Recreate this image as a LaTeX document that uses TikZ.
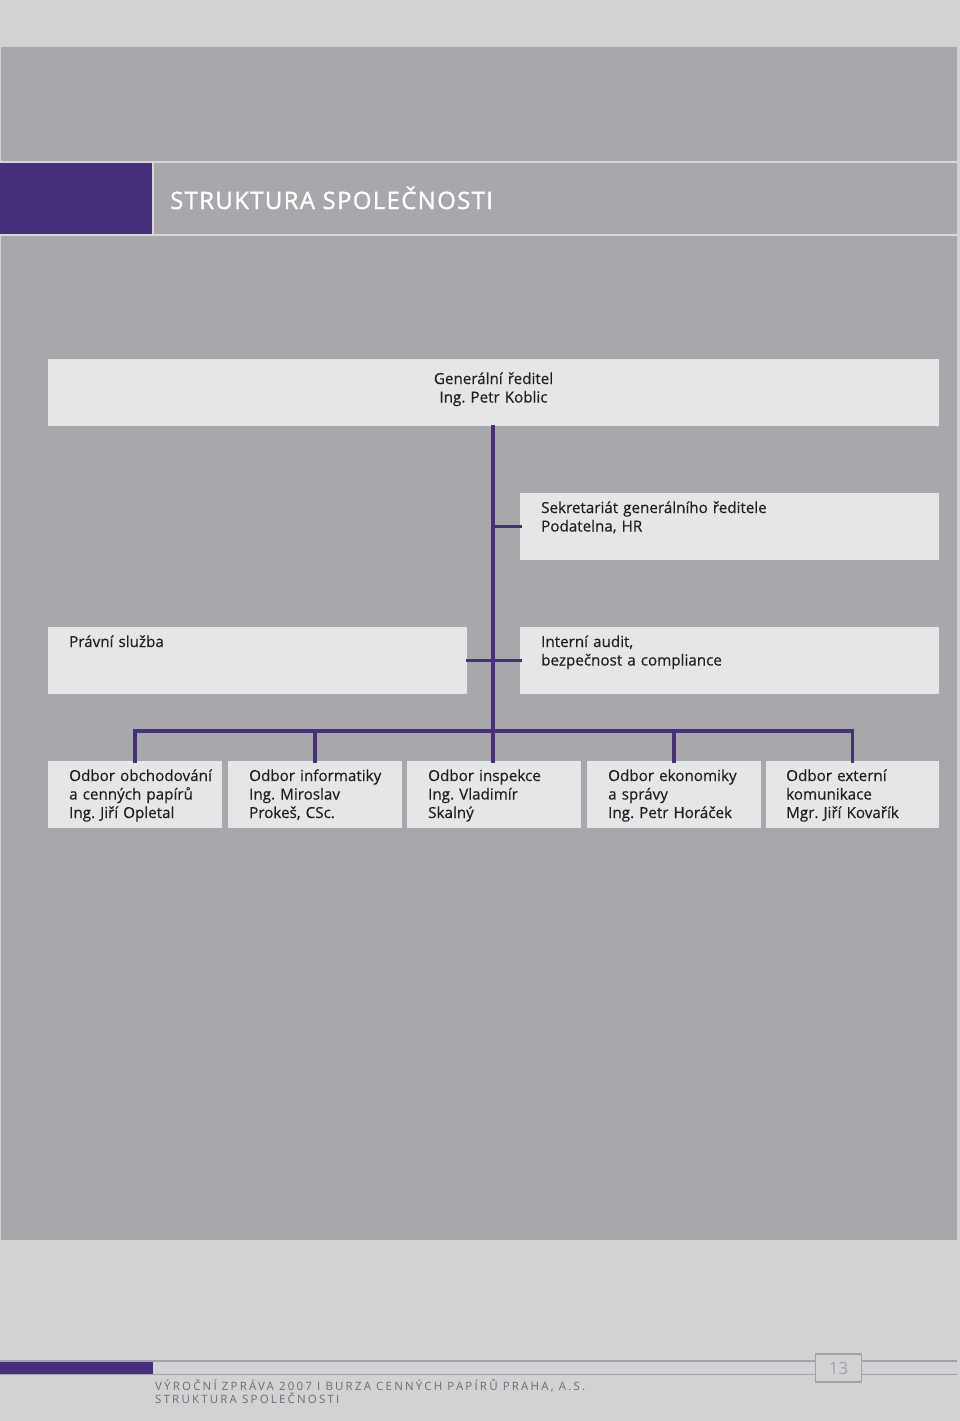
\documentclass[tikz,border=0pt]{standalone}
\usepackage{fontspec}
\setmainfont{Open Sans}
\newfontfamily\titlefont[LetterSpace=5.5,FakeBold=1.3]{Open Sans}
\newfontfamily\footfont[LetterSpace=19]{Open Sans}
\newfontfamily\bodyfont[FakeBold=0.4]{Open Sans}
\frenchspacing
\definecolor{bandlight}{HTML}{D1D2D4}
\definecolor{maingrey}{HTML}{A7A8AB}
\definecolor{boxfill}{HTML}{E5E6E8}
\definecolor{purp}{HTML}{46307B}
\definecolor{bandline}{HTML}{D6D7D9}
\definecolor{txtdark}{HTML}{231F20}
\definecolor{footgrey}{HTML}{6D6E71}
\definecolor{footline}{HTML}{A3A4A7}
\tikzset{
  box/.style={rectangle, fill=boxfill, draw=none, inner sep=0pt, anchor=north west},
  boxtext/.style={inner sep=0pt, anchor=base west, align=left, text width=300pt,
    text=txtdark, font=\bodyfont\fontsize{15.2}{18.5}\selectfont},
  conn/.style={draw=purp, line width=3.5pt, line cap=rect, line join=miter},
}
\begin{document}
\begin{tikzpicture}[x=1pt,y=-1pt]
\useasboundingbox (0,0) rectangle (960,1421);
% backgrounds
\fill[bandlight] (0,0) rectangle (960,1421);
\fill[maingrey] (1,47) rectangle (957,1240);
% title band
\draw[bandline, line width=2pt] (0,162) -- (957,162);
\draw[bandline, line width=2pt] (0,234.5) -- (957,234.5);
\fill[purp] (0,163) rectangle (152,233.5);
\draw[bandline, line width=1.5pt] (153,163) -- (153,233.5);
\node[anchor=base west, inner sep=0pt, text=white, font=\titlefont\fontsize{24}{24}\selectfont] (title) at (170,209) {STRUKTURA SPOLEČNOSTI};

% boxes
\node[box, minimum width=891pt, minimum height=67pt] (gen) at (48,359) {};
\node[box, minimum width=419pt, minimum height=67pt] (sek) at (520,493) {};
\node[box, minimum width=419pt, minimum height=67pt] (pr) at (48,627) {};
\node[box, minimum width=419pt, minimum height=67pt] (ia) at (520,627) {};
\node[box, minimum width=174pt, minimum height=67pt] (b1) at (48,761) {};
\node[box, minimum width=174pt, minimum height=67pt] (b2) at (228,761) {};
\node[box, minimum width=174pt, minimum height=67pt] (b3) at (407,761) {};
\node[box, minimum width=174pt, minimum height=67pt] (b4) at (587,761) {};
\node[box, minimum width=173pt, minimum height=67pt] (b5) at (766,761) {};

% texts
\node[boxtext, anchor=base, align=center] (gent) at (493.5,384) {Generální ředitel\\Ing. Petr Koblic};
\node[boxtext] (sekt) at (541,513) {Sekretariát generálního ředitele\\Podatelna, HR};
\node[boxtext] (prt) at (69,647) {Právní služba};
\node[boxtext] (iat) at (541,647) {Interní audit,\\bezpečnost a compliance};
\node[boxtext, text width=165pt] (b1t) at (69,781) {Odbor obchodování\\a cenných papírů\\Ing. Jiří Opletal};
\node[boxtext, text width=165pt] (b2t) at (249,781) {Odbor informatiky\\Ing. Miroslav\\Prokeš, CSc.};
\node[boxtext, text width=165pt] (b3t) at (428,781) {Odbor inspekce\\Ing. Vladimír\\Skalný};
\node[boxtext, text width=165pt] (b4t) at (608,781) {Odbor ekonomiky\\a správy\\Ing. Petr Horáček};
\node[boxtext, text width=165pt] (b5t) at (786,781) {Odbor externí\\komunikace\\Mgr. Jiří Kovařík};

% connectors
\coordinate (tr) at (493,0);
\coordinate (bus) at (0,731);
\draw[conn] (gen.south -| tr) -- (b3.north -| tr);
\draw[conn] (sek.west) -- (sek.west -| tr);
\draw[conn] (pr.east) -- (ia.west);
\draw[conn] (b1.north) -- (b1.north |- bus) -- (b5.north |- bus) -- (b5.north);
\draw[conn] (b2.north) -- (b2.north |- bus);
\draw[conn] (b4.north) -- (b4.north |- bus);

% footer
\draw[footline, line width=1.8pt] (0,1361) -- (815,1361);
\draw[footline, line width=1.8pt] (862,1361) -- (957,1361);
\draw[footline, line width=1.8pt] (0,1374.5) -- (815,1374.5);
\draw[footline, line width=1.8pt] (862,1374.5) -- (957,1374.5);
\fill[purp] (0,1362) rectangle (153,1374);
\node[draw=footline, line width=1.5pt, fill=bandlight, minimum width=46pt, minimum height=28pt, inner sep=0pt, text=footline, font=\fontsize{17}{17}\selectfont] (page) at (838.5,1368) {13};
\node[anchor=base west, inner sep=0pt, text=footgrey, font=\footfont\fontsize{11.5}{11.5}\selectfont] (foot1) at (155,1390) {VÝROČNÍ ZPRÁVA 2007 I BURZA CENNÝCH PAPÍRŮ PRAHA, A.S.};
\node[anchor=base west, inner sep=0pt, text=footgrey, font=\footfont\fontsize{11.5}{11.5}\selectfont] (foot2) at (155,1403) {STRUKTURA SPOLEČNOSTI};
\end{tikzpicture}
\end{document}
